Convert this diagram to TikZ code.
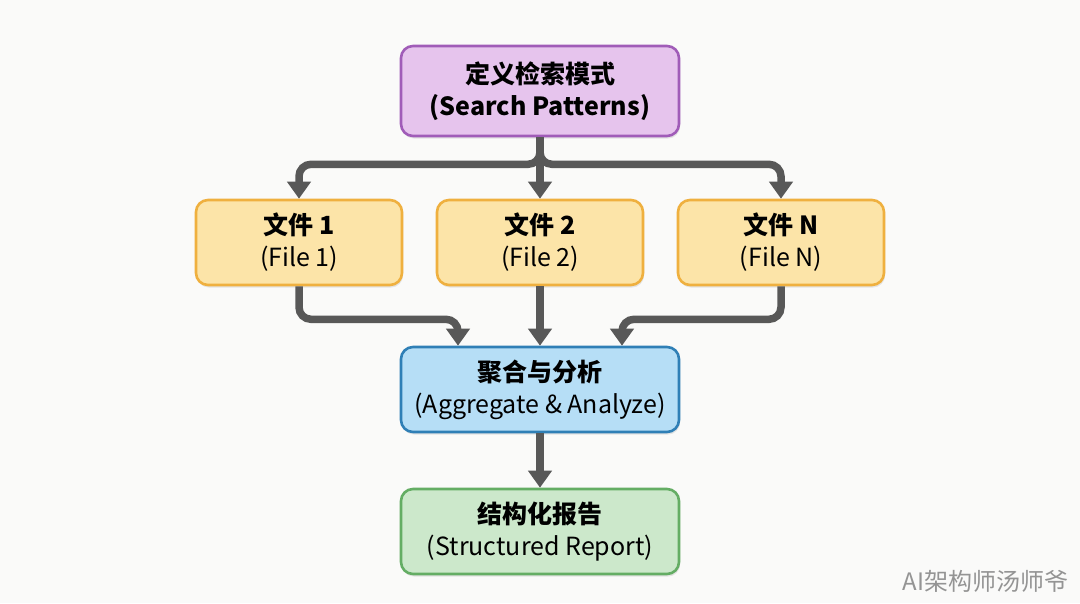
\documentclass[tikz,border=0pt]{standalone}
\usepackage{fontspec}
\setmainfont{Noto Sans CJK SC}
\usepackage{tikz}
\usetikzlibrary{arrows.meta,shadows}

\definecolor{bgcol}{HTML}{FAFAF9}
\definecolor{purplefill}{HTML}{E6C4ED}
\definecolor{purpleline}{HTML}{A05CB8}
\definecolor{yellowfill}{HTML}{FCE4A8}
\definecolor{yellowline}{HTML}{EFB03F}
\definecolor{bluefill}{HTML}{B6DEF6}
\definecolor{blueline}{HTML}{2F7FB6}
\definecolor{greenfill}{HTML}{CCE8CB}
\definecolor{greenline}{HTML}{64AD64}
\definecolor{flowcol}{HTML}{585858}

\begin{document}
\begin{tikzpicture}[x=1pt,y=-1pt,
		box/.style={draw,line width=2.6pt,rounded corners=12pt,align=center,
			font=\fontsize{25}{32}\selectfont,inner sep=0pt,
			drop shadow={shadow xshift=1pt,shadow yshift=-2.5pt,opacity=0.18}},
		flow/.style={draw=flowcol,line width=7.5pt,rounded corners=12pt,
			-{Triangle[width=23pt,length=17pt]}}]
			\fill[bgcol] (0,0) rectangle (1080,603);
			\useasboundingbox (0,0) rectangle (1080,603);
			% boxes
			\node[box,fill=purplefill,draw=purpleline,minimum width=278pt,minimum height=90pt] (patterns) at (540,91) {\textbf{定义检索模式}\\\textbf{(Search Patterns)}};
			\node[box,fill=yellowfill,draw=yellowline,minimum width=206pt,minimum height=85pt] (file1) at (299,242.5) {\textbf{文件 1}\\(File 1)};
			\node[box,fill=yellowfill,draw=yellowline,minimum width=206pt,minimum height=85pt] (file2) at (540,242.5) {\textbf{文件 2}\\(File 2)};
			\node[box,fill=yellowfill,draw=yellowline,minimum width=206pt,minimum height=85pt] (fileN) at (781,242.5) {\textbf{文件 N}\\(File N)};
			\node[box,fill=bluefill,draw=blueline,minimum width=278pt,minimum height=85pt] (aggregate) at (540,389.5) {\textbf{聚合与分析}\\(Aggregate \& Analyze)};
			\node[box,fill=greenfill,draw=greenline,minimum width=278pt,minimum height=85pt] (report) at (540,531.5) {\textbf{结构化报告}\\(Structured Report)};
			% connectors
			\foreach \f in {file1,file2,fileN}{
				\draw[flow] (patterns.south) -- ++(0,27) -| (\f.north);
			}
			\draw[flow] (file1.south) -- ++(0,33) -| ([xshift=-82pt]aggregate.north);
			\draw[flow] (file2.south) -- (aggregate.north);
			\draw[flow] (fileN.south) -- ++(0,33) -| ([xshift=82pt]aggregate.north);
			\draw[flow] (aggregate.south) -- (report.north);
			% watermark
			\node[text=black!42,font=\fontsize{24}{28}\selectfont,anchor=east] (mark) at (1072,581) {AI架构师汤师爷};
\end{tikzpicture}
\end{document}
